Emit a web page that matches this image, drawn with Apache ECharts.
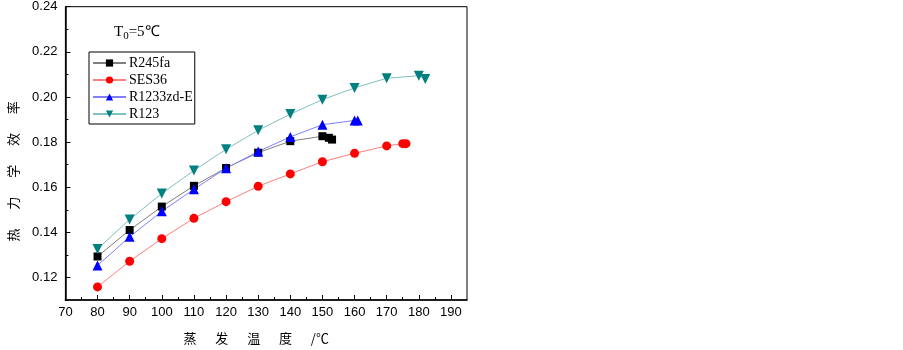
<!DOCTYPE html>
<html>
<head>
<meta charset="utf-8">
<script src="https://cdn.jsdelivr.net/npm/echarts@6/dist/echarts.min.js"></script>
<style>
  html, body { margin: 0; padding: 0; background: #fff; }
  #main { width: 903px; height: 350px; }
</style>
</head>
<body>
<div id="main"></div>
<script>
// 数据
var xR245fa = [80, 90, 100, 110, 120, 130, 140, 150, 152, 153]
var yR245fa = [0.1293, 0.1410, 0.1514, 0.1606, 0.1685, 0.1753, 0.1804, 0.1826, 0.1819, 0.1811]

var xSES36 = [80, 90, 100, 110, 120, 130, 140, 150, 160, 170, 175, 176]
var ySES36 = [0.1158, 0.1272, 0.1372, 0.1462, 0.1536, 0.1604, 0.1659, 0.1713, 0.1750, 0.1783, 0.1793, 0.1793]

var xR1233 = [80, 90, 100, 110, 120, 130, 140, 150, 160, 161]
var yR1233 = [0.1253, 0.1380, 0.1493, 0.1591, 0.1684, 0.1758, 0.1823, 0.1877, 0.1896, 0.1896]

var xR123 = [80, 90, 100, 110, 120, 130, 140, 150, 160, 170, 180, 182]
var yR123 = [0.1326, 0.1457, 0.1572, 0.1674, 0.1768, 0.1852, 0.1924, 0.1988, 0.2040, 0.2083, 0.2094, 0.2080]

var xMajor = [70, 80, 90, 100, 110, 120, 130, 140, 150, 160, 170, 180, 190]
var xMinor = [75, 85, 95, 105, 115, 125, 135, 145, 155, 165, 175, 185]
var yMajor = [0.12, 0.14, 0.16, 0.18, 0.20, 0.22, 0.24]
var yMinor = [0.11, 0.13, 0.15, 0.17, 0.19, 0.21, 0.23]

function pairs(xs, ys) {
  return xs.map(function (x, i) { return [x, ys[i]] })
}

var chart = echarts.init(document.getElementById('main'))

var numFont = 'Liberation Sans'
var serif = 'Liberation Serif'
var cjk = 'Noto Sans CJK SC'
var sep = '\u3000  '

function mkSeries(name, data, lineColor, color, symbol, size, rotate) {
  return {
    name: name,
    type: 'line',
    data: data,
    symbol: symbol,
    symbolSize: size,
    symbolRotate: rotate || 0,
    lineStyle: { color: lineColor, width: 1 },
    itemStyle: { color: color },
    animation: false
  }
}

chart.setOption({
  backgroundColor: '#fff',
  title: {
    text: '{a|T}{b|0}{a|=5℃}',
    left: 109,
    top: 17,
    textStyle: {
      rich: {
        a: { fontFamily: serif, fontSize: 15, fontWeight: 'normal', color: '#000' },
        b: { fontFamily: serif, fontSize: 11, fontWeight: 'normal', color: '#000', padding: [9, 0, 0, 0] }
      }
    }
  },
  legend: {
    orient: 'vertical',
    left: 89,
    top: 52,
    padding: [4, 2, 3, 3],
    itemGap: 3,
    itemWidth: 33,
    itemHeight: 9,
    borderColor: '#000',
    borderWidth: 1,
    textStyle: { fontFamily: serif, fontSize: 14, color: '#000', padding: [0, 0, 0, -2] },
    data: ['R245fa', 'SES36', 'R1233zd-E', 'R123']
  },
  grid: {
    left: 65.4,
    right: 436,
    top: 6.7,
    bottom: 45,
    show: true,
    borderColor: '#000',
    borderWidth: 1,
    containLabel: false
  },
  xAxis: [{
    type: 'value',
    min: 70,
    max: 195,
    interval: 10,
    position: 'bottom',
    splitLine: { show: false },
    axisLine: { lineStyle: { color: '#000', width: 1.5 } },
    axisTick: { inside: true, length: 5, customValues: xMajor, lineStyle: { color: '#000', width: 1 } },
    axisLabel: {
      customValues: xMajor,
      margin: 6,
      fontFamily: numFont, fontSize: 13, color: '#000'
    },
    name: '蒸' + sep + '发' + sep + '温' + sep + '度' + sep + '/℃',
    nameLocation: 'middle',
    nameGap: 32,
    nameTextStyle: { fontFamily: cjk, fontSize: 13, color: '#000', padding: [0, 20, 0, 0] }
  }, {
    type: 'value',
    min: 70,
    max: 195,
    position: 'bottom',
    splitLine: { show: false },
    axisLine: { show: false },
    axisTick: { inside: true, length: 3, customValues: xMinor, lineStyle: { color: '#000', width: 1 } },
    axisLabel: { show: false }
  }],
  yAxis: [{
    type: 'value',
    min: 0.11,
    max: 0.24,
    interval: 0.01,
    position: 'left',
    splitLine: { show: false },
    axisLine: { lineStyle: { color: '#000', width: 1.5 } },
    axisTick: { inside: true, length: 5, customValues: yMajor, lineStyle: { color: '#000', width: 1 } },
    axisLabel: {
      customValues: yMajor,
      margin: 8,
      fontFamily: numFont, fontSize: 13, color: '#000',
      formatter: function (v) { return v.toFixed(2) }
    },
    name: '热' + sep + '力' + sep + '学' + sep + '效' + sep + '率',
    nameLocation: 'middle',
    nameRotate: 90,
    nameGap: 46,
    nameTextStyle: { fontFamily: cjk, fontSize: 13, color: '#000', padding: [0, 36, 0, 0] }
  }, {
    type: 'value',
    min: 0.11,
    max: 0.24,
    position: 'left',
    splitLine: { show: false },
    axisLine: { show: false },
    axisTick: { inside: true, length: 3, customValues: yMinor, lineStyle: { color: '#000', width: 1 } },
    axisLabel: { show: false }
  }],
  series: [
    mkSeries('R245fa', pairs(xR245fa, yR245fa), '#7f7f7f', '#000000', 'rect', 8),
    mkSeries('SES36', pairs(xSES36, ySES36), '#ff8080', '#ff0000', 'circle', 9),
    mkSeries('R1233zd-E', pairs(xR1233, yR1233), '#8080ff', '#0000ff', 'triangle', 10),
    mkSeries('R123', pairs(xR123, yR123), '#80c0c0', '#008080', 'triangle', 10, 180)
  ]
})
</script>
</body>
</html>
